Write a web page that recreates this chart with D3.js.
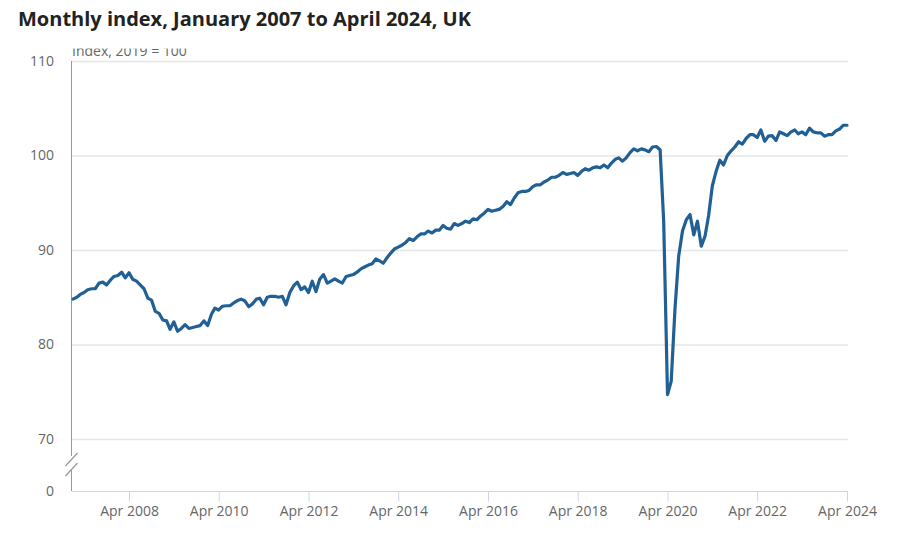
<!DOCTYPE html>
<html>
<head>
<meta charset="utf-8">
<script src="https://cdn.jsdelivr.net/npm/d3@7"></script>
<style>
  body { margin: 0; background: #fff; }
  text { font-family: "Open Sans", sans-serif; }
</style>
</head>
<body>
<svg id="chart"></svg>
<script>
//data
const startMonth = new Date(2007, 0, 1);
const endMonth = new Date(2024, 3, 1);
const yTicks = [70, 80, 90, 100, 110];
const xTickYears = [2008, 2010, 2012, 2014, 2016, 2018, 2020, 2022, 2024];
const index = [
    84.8, 85.0, 85.3, 85.5, 85.8, 85.9, 85.9, 86.5, 86.6, 86.3, 86.8, 87.2,   //2007
    87.3, 87.65, 87.05, 87.6, 86.9, 86.7, 86.3, 85.9, 84.9, 84.7, 83.5, 83.3, //2008
    82.6, 82.5, 81.6, 82.4, 81.4, 81.7, 82.1, 81.7, 81.8, 81.9, 82.0, 82.5,   //2009
    82.0, 83.2, 83.85, 83.65, 84.05, 84.1, 84.1, 84.4, 84.65, 84.8, 84.6, 84.0, //2010
    84.3, 84.8, 84.9, 84.2, 85.0, 85.1, 85.1, 85.0, 85.1, 84.2, 85.5, 86.2,   //2011
    86.6, 85.8, 86.1, 85.5, 86.7, 85.6, 86.9, 87.4, 86.5, 86.7, 86.95, 86.7,  //2012
    86.5, 87.2, 87.3, 87.4, 87.65, 88.0, 88.2, 88.4, 88.55, 89.05, 88.85, 88.6, //2013
    89.2, 89.7, 90.1, 90.3, 90.5, 90.8, 91.2, 91.0, 91.4, 91.7, 91.7, 92.0,   //2014
    91.8, 92.1, 92.1, 92.6, 92.3, 92.2, 92.8, 92.6, 92.8, 93.05, 92.9, 93.3,  //2015
    93.2, 93.6, 93.9, 94.3, 94.1, 94.2, 94.3, 94.6, 95.1, 94.8, 95.5, 96.05,  //2016
    96.2, 96.2, 96.3, 96.7, 96.9, 96.9, 97.2, 97.4, 97.7, 97.7, 97.9, 98.2,   //2017
    98.0, 98.1, 98.2, 97.9, 98.3, 98.6, 98.45, 98.7, 98.8, 98.7, 99.0, 98.7,  //2018
    99.2, 99.6, 99.75, 99.4, 99.75, 100.3, 100.7, 100.5, 100.7, 100.6, 100.4, 100.9, //2019
    100.95, 100.6, 93.0, 74.7, 76.1, 83.8, 89.35, 92.0, 93.2, 93.75, 91.6, 93.05,    //2020
    90.4, 91.5, 93.6, 96.8, 98.3, 99.5, 99.0, 100.0, 100.5, 100.9, 101.45, 101.2,    //2021
    101.8, 102.2, 102.2, 101.9, 102.7, 101.5, 102.05, 102.1, 101.6, 102.5, 102.3, 102.1, //2022
    102.5, 102.7, 102.3, 102.5, 102.2, 102.9, 102.5, 102.4, 102.4, 102.05, 102.2, 102.2, //2023
    102.6, 102.8, 103.2, 103.2                                                         //2024
];

//constants
const W = 905, H = 542;
const margin = {top: 61, right: 58, bottom: 51, left: 72};
const plotBottom = 439;       // y of the 70 line
const baseY = H - margin.bottom; // y of the 0 line (after the break)

const series = index.map((v, i) => ({date: d3.timeMonth.offset(startMonth, i), value: v}));

const svg = d3.select("#chart")
    .attr("width", W)
    .attr("height", H);

//scales
const x = d3.scaleTime()
    .domain([startMonth, endMonth])
    .range([margin.left + 1, W - margin.right]);

const y = d3.scaleLinear()
    .domain([70, 110])
    .range([plotBottom, margin.top]);

//title
svg.append("text")
    .attr("x", 18)
    .attr("y", 26)
    .style("font-size", "20px")
    .style("font-weight", "bold")
    .style("fill", "#222")
    .text("Monthly index, January 2007 to April 2024, UK");

//axis title, clipped at the top like the original
svg.append("defs").append("clipPath")
    .attr("id", "labelClip")
    .append("rect")
    .attr("x", 0).attr("y", 48.5)
    .attr("width", 300).attr("height", 20);

svg.append("text")
    .attr("x", margin.left)
    .attr("y", 56)
    .attr("clip-path", "url(#labelClip)")
    .style("font-size", "14px")
    .style("fill", "#666")
    .text("Index, 2019 = 100");

//grid
svg.append("g")
    .attr("class", "grid")
    .selectAll("line")
    .data(yTicks)
    .join("line")
    .attr("x1", margin.left)
    .attr("x2", W - margin.right + 1)
    .attr("y1", d => y(d) + 0.5)
    .attr("y2", d => y(d) + 0.5)
    .attr("stroke", "#e6e6e6")
    .attr("stroke-width", 1.5);

//y axis labels
const gY = svg.append("g")
    .attr("transform", "translate(" + (margin.left - 18) + ",0)")
    .call(d3.axisLeft(y).tickValues(yTicks).tickSize(0).tickPadding(0));
gY.select(".domain").remove();
gY.selectAll("text")
    .style("font-family", "'Open Sans', sans-serif")
    .style("font-size", "14px")
    .style("fill", "#666");

gY.append("text")
    .attr("x", 0)
    .attr("y", baseY + 1)
    .attr("dy", "0.32em")
    .attr("text-anchor", "end")
    .style("font-size", "14px")
    .style("fill", "#666")
    .text("0");

//y axis line with break
const axisX = margin.left - 0.5;
const breakTop = plotBottom + 17, breakBottom = plotBottom + 30;
svg.append("line")
    .attr("x1", axisX).attr("x2", axisX)
    .attr("y1", margin.top).attr("y2", breakTop)
    .attr("stroke", "#999");
svg.append("line")
    .attr("x1", axisX).attr("x2", axisX)
    .attr("y1", breakBottom).attr("y2", baseY)
    .attr("stroke", "#999");
[0, 10].forEach(off => {
    svg.append("line")
        .attr("x1", axisX - 6).attr("y1", breakTop + 10 + off)
        .attr("x2", axisX + 6).attr("y2", breakTop - 3 + off)
        .attr("stroke", "#999")
        .attr("stroke-width", 1.2);
});

//x axis
const xTicks = xTickYears.map(yr => new Date(yr, 3, 1));
const gX = svg.append("g")
    .attr("transform", "translate(0," + (baseY + 0.5) + ")")
    .call(d3.axisBottom(x)
        .tickValues(xTicks)
        .tickFormat(d3.timeFormat("%b %Y"))
        .tickSize(10)
        .tickSizeOuter(0)
        .tickPadding(5));
gX.select(".domain")
    .attr("stroke", "#ccd6eb")
    .attr("d", "M" + margin.left + ",0H" + (W - margin.right + 1));
gX.selectAll(".tick line").attr("stroke", "#ccd6eb");
gX.selectAll(".tick text")
    .style("font-family", "'Open Sans', sans-serif")
    .style("font-size", "14px")
    .style("fill", "#666");

//line
const line = d3.line()
    .x(d => x(d.date))
    .y(d => y(d.value));

svg.append("path")
    .datum(series)
    .attr("fill", "none")
    .attr("stroke", "#206095")
    .attr("stroke-width", 3.2)
    .attr("stroke-linejoin", "round")
    .attr("stroke-linecap", "round")
    .attr("d", line);
</script>
</body>
</html>
